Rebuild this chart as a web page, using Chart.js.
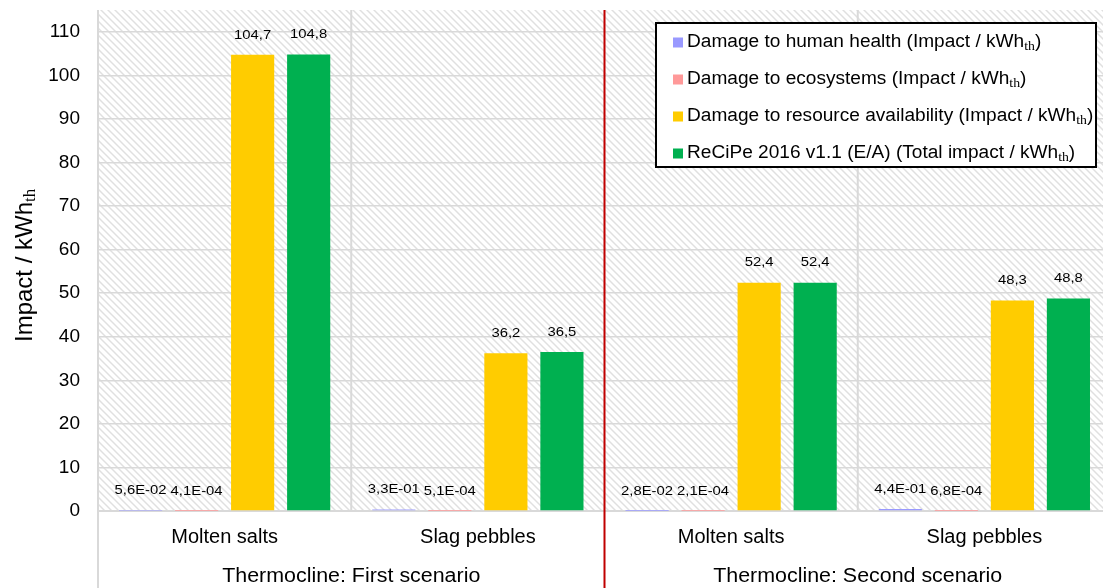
<!DOCTYPE html>
<html>
<head>
<meta charset="utf-8">
<script src="https://cdn.jsdelivr.net/npm/chart.js@4.4.0/dist/chart.umd.min.js"></script>
<style>
  html, body { margin: 0; padding: 0; background: #fff; overflow: hidden; }
  #wrap { width: 1111px; height: 588px; position: relative; }
</style>
</head>
<body>
<div id="wrap"><canvas id="myChart"></canvas></div>
<script>
// data
const categories = ['Molten salts', 'Slag pebbles', 'Molten salts', 'Slag pebbles'];
const groups = ['Thermocline: First scenario', 'Thermocline: Second scenario'];
const humanHealth = [0.056, 0.33, 0.028, 0.44];
const ecosystems = [0.00041, 0.00051, 0.00021, 0.00068];
const resources = [104.7, 36.2, 52.4, 48.3];
const totalImpact = [104.8, 36.5, 52.4, 48.8];
const seriesNames = [
  'Damage to human health (Impact / kWh',
  'Damage to ecosystems (Impact / kWh',
  'Damage to resource availability (Impact / kWh',
  'ReCiPe 2016 v1.1 (E/A) (Total impact / kWh'
];
const seriesColors = ['#9999ff', '#ff9999', '#ffcc00', '#00b050'];
const yTitle = 'Impact / kWh';
const yTicks = [0, 10, 20, 30, 40, 50, 60, 70, 80, 90, 100, 110];

const FONT = "'Liberation Sans', Arial, sans-serif";
const SUBFONT = "'Liberation Serif', 'DejaVu Serif', serif";

// 5,6E-02 style for small values, 104,7 for the rest
function fmt(v) {
  if (v >= 1) return v.toFixed(1).replace('.', ',');
  let e = Math.floor(Math.log10(v));
  let m = (v / Math.pow(10, e)).toFixed(1);
  if (m === '10.0') { m = '1.0'; e++; }
  return m.replace('.', ',') + 'E-' + String(-e).padStart(2, '0');
}

function makeHatch() {
  const c = document.createElement('canvas');
  c.width = 7; c.height = 7;
  const g = c.getContext('2d');
  g.fillStyle = '#ffffff';
  g.fillRect(0, 0, 7, 7);
  g.strokeStyle = '#e0e0e0';
  g.lineWidth = 1.5;
  g.beginPath();
  g.moveTo(0, 0); g.lineTo(7, 7);
  g.moveTo(-2, 5); g.lineTo(2, 9);
  g.moveTo(5, -2); g.lineTo(9, 2);
  g.stroke();
  return c;
}

// text with a "th" subscript after it and a closing bracket
function drawSubText(ctx, text, x, y, size, sx, tail) {
  ctx.save();
  ctx.translate(x, y);
  ctx.scale(sx, 1);
  ctx.font = size + 'px ' + FONT;
  ctx.textAlign = 'left';
  ctx.textBaseline = 'middle';
  ctx.fillText(text, 0, 0);
  let w = ctx.measureText(text).width;
  ctx.font = Math.round(size * 0.72) + 'px ' + SUBFONT;
  ctx.fillText('th', w, size * 0.22);
  w += ctx.measureText('th').width;
  if (tail) {
    ctx.font = size + 'px ' + FONT;
    ctx.fillText(tail, w, 0);
  }
  ctx.restore();
}

const extras = {
  id: 'extras',
  beforeDraw(chart) {
    const { ctx, chartArea: a } = chart;
    ctx.save();
    ctx.fillStyle = ctx.createPattern(makeHatch(), 'repeat');
    ctx.fillRect(a.left, a.top, a.right - a.left, a.bottom - a.top);
    ctx.restore();
  },
  beforeDatasetsDraw(chart) {
    const { ctx, chartArea: a } = chart;
    const step = (a.right - a.left) / categories.length;
    ctx.save();
    ctx.lineWidth = 2;
    ctx.strokeStyle = '#d9d9d9';
    ctx.beginPath();
    ctx.moveTo(a.left, a.bottom); ctx.lineTo(a.right, a.bottom);
    ctx.moveTo(a.left, a.top); ctx.lineTo(a.left, chart.height);
    for (let i = 1; i < categories.length; i++) {
      if (i === 2) continue;
      const x = a.left + i * step;
      ctx.moveTo(x, a.top); ctx.lineTo(x, a.bottom);
    }
    ctx.stroke();
    ctx.strokeStyle = '#c00000';
    ctx.beginPath();
    ctx.moveTo(a.left + 2 * step, a.top);
    ctx.lineTo(a.left + 2 * step, chart.height);
    ctx.stroke();
    ctx.restore();
  },
  afterDatasetsDraw(chart) {
    const { ctx } = chart;
    ctx.save();
    ctx.fillStyle = '#000';
    chart.data.datasets.forEach((ds, di) => {
      chart.getDatasetMeta(di).data.forEach((bar, i) => {
        ctx.save();
        ctx.translate(bar.x, bar.y - 20);
        ctx.scale(1.1, 1);
        ctx.font = '13.5px ' + FONT;
        ctx.textAlign = 'center';
        ctx.textBaseline = 'middle';
        ctx.fillText(fmt(ds.data[i]), 0, 0);
        ctx.restore();
      });
    });
    ctx.restore();
  },
  afterDraw(chart) {
    const { ctx, chartArea: a } = chart;
    const step = (a.right - a.left) / categories.length;
    // group labels under each pair of categories
    ctx.save();
    ctx.fillStyle = '#000';
    ctx.font = '20px ' + FONT;
    ctx.textAlign = 'center';
    ctx.textBaseline = 'middle';
    groups.forEach((g, i) => {
      const cx = a.left + (i * 2 + 1) * step;
      ctx.save();
      ctx.translate(cx, 576);
      ctx.scale(1.07, 1);
      ctx.fillText(g, 0, 0);
      ctx.restore();
    });
    ctx.restore();

    // y axis title
    ctx.save();
    ctx.fillStyle = '#000';
    ctx.translate(25, 264);
    ctx.rotate(-Math.PI / 2);
    ctx.font = '24px ' + FONT;
    const tw = ctx.measureText(yTitle).width + 16;
    drawSubText(ctx, yTitle, -tw / 2, 0, 24, 1, '');
    ctx.restore();

    // legend box
    const lx = 656, ly = 23, lw = 440, lh = 144;
    ctx.save();
    ctx.fillStyle = '#fff';
    ctx.fillRect(lx, ly, lw, lh);
    ctx.strokeStyle = '#000';
    ctx.lineWidth = 2;
    ctx.strokeRect(lx, ly, lw, lh);
    seriesNames.forEach((name, i) => {
      const y = ly + 19.5 + i * 37;
      ctx.fillStyle = seriesColors[i];
      ctx.fillRect(lx + 17, y - 5, 10, 10);
      ctx.fillStyle = '#000';
      drawSubText(ctx, name, lx + 31, y, 18, 1.06, ')');
    });
    ctx.restore();
  }
};

const ctx = document.getElementById('myChart').getContext('2d');
const myChart = new Chart(ctx, {
  type: 'bar',
  data: {
    labels: categories,
    datasets: [humanHealth, ecosystems, resources, totalImpact].map((d, i) => ({
      label: seriesNames[i] + 'th)',
      data: d,
      backgroundColor: seriesColors[i],
      barPercentage: 0.77,
      categoryPercentage: 0.885
    }))
  },
  options: {
    responsive: true,
    maintainAspectRatio: false,
    animation: false,
    layout: { padding: { top: 10, left: 0, right: 0, bottom: 0 } },
    plugins: { legend: { display: false }, tooltip: { enabled: false } },
    scales: {
      x: {
        grid: { display: false, drawTicks: false },
        border: { display: false },
        ticks: { color: '#000', font: { size: 20, family: FONT }, padding: 14 },
        afterFit(s) { s.height = 77; }
      },
      y: {
        min: 0,
        max: 115,
        afterBuildTicks(s) { s.ticks = yTicks.map(v => ({ value: v })); },
        grid: { color: '#d9d9d9', lineWidth: 1.5, drawTicks: false },
        border: { display: false },
        ticks: { color: '#000', font: { size: 19, family: FONT }, padding: 18 },
        afterFit(s) { s.width = 98; s.paddingTop = 0; s.paddingBottom = 0; }
      }
    }
  },
  plugins: [extras]
});
</script>
</body>
</html>
